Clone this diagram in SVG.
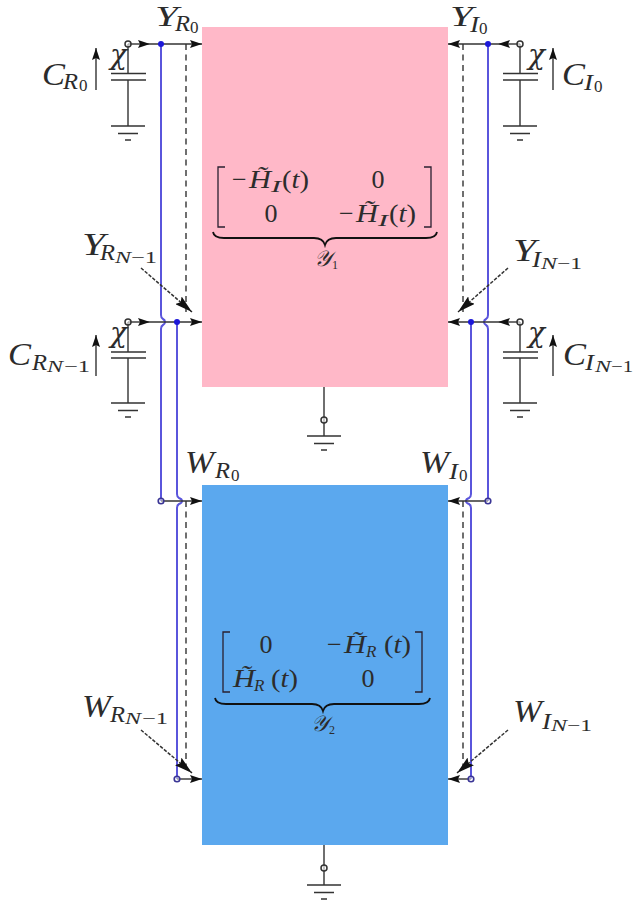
<svg xmlns="http://www.w3.org/2000/svg" width="634" height="903" viewBox="0 0 634 903">
<style>
text{font-family:"Liberation Serif","DejaVu Serif",serif;fill:#2c2c2c}
.i{font-style:italic}
.b{font-size:32px}.bt{font-size:29px}.s{font-size:23px}.t{font-size:17px}.n{font-size:17px;font-style:normal}
.c{font-family:"DejaVu Serif","Liberation Serif",serif;font-style:italic;font-size:27px}
.m{font-size:26px}.ms{font-size:17px;font-style:italic}.z{font-size:26px;text-anchor:middle}
.w{stroke:#333;stroke-width:1.4;fill:none}
.blue{stroke:#5a55dc;stroke-width:2;fill:none}
.dash{stroke:#333;stroke-width:1.4;fill:none;stroke-dasharray:6 4.5}
.dg{stroke:#333;stroke-width:1.5;fill:none;stroke-dasharray:3.5 1.5}
.br{stroke:#2a2030;stroke-width:1.3;fill:none}
.ubr{stroke:#111;stroke-width:1.8;fill:none}
.o{fill:#fff;fill-opacity:.6;stroke:#333;stroke-width:1.5}
.ob{fill:#fff;fill-opacity:.5;stroke:#3a3595;stroke-width:1.6}
.d{fill:#1c18d8}
.a{marker-end:url(#h)}
</style>
<defs>
<marker id="h" viewBox="0 0 12 8" refX="12" refY="4" markerWidth="12" markerHeight="8" markerUnits="userSpaceOnUse" orient="auto"><path d="M0 0L12 4L0 8L2 4Z" fill="#111"/></marker>
<marker id="hd" viewBox="0 0 18 10" refX="18" refY="5" markerWidth="18" markerHeight="10" markerUnits="userSpaceOnUse" orient="auto"><path d="M0 0L18 5L0 10L3 5Z" fill="#111"/></marker>
<g id="gnd"><path class="w" d="M-17 0H17M-10 7.500H10M-3 14H3"/></g>
</defs>

<g id="box-y1"><rect x="202" y="27" width="246" height="360" fill="#ffb8c8"/></g>
<g id="box-y2"><rect x="202" y="485" width="246" height="360" fill="#5ba8ee"/></g>

<g id="connectors">
<path class="dash" d="M186 44V312M463 44V312M186 501V772M463 501V772"/>
<path class="blue" d="M161 44V315Q161 318 163 319Q165 320 165 322Q165 324 163 325Q161 326 161 329V501"/>
<path class="blue" d="M177 322V494Q177 497 179 498Q182 499 182 501Q182 503 179 504Q177 505 177 508V779"/>
<path class="blue" d="M488 44V315Q488 318 486 319Q484 320 484 322Q484 324 486 325Q488 326 488 329V501"/>
<path class="blue" d="M471 322V494Q471 497 469 498Q466 499 466 501Q466 503 469 504Q471 505 471 508V779"/>
<path class="w a" d="M128 44H150"/><path class="w a" d="M150 44H202"/>
<path class="w a" d="M128 322H150"/><path class="w a" d="M150 322H202"/>
<path class="w a" d="M520 44H498"/><path class="w a" d="M498 44H448"/>
<path class="w a" d="M520 322H498"/><path class="w a" d="M498 322H448"/>
<path class="w a" d="M161 501H202"/><path class="w a" d="M488 501H448"/>
<path class="w a" d="M177 779H202"/><path class="w a" d="M471 779H448"/>
<path class="dg" marker-end="url(#hd)" d="M141 268L192 312"/>
<path class="dg" marker-end="url(#hd)" d="M508 268L458 312"/>
<path class="dg" marker-end="url(#hd)" d="M141 730L192 773"/>
<path class="dg" marker-end="url(#hd)" d="M508 730L457 773"/>
<path class="w" d="M324 387V436M324 845V885"/>
</g>

<g id="terminals">
<circle class="d" cx="161" cy="44" r="3"/><circle class="d" cx="488" cy="44" r="3"/>
<circle class="d" cx="177" cy="322" r="3"/><circle class="d" cx="471" cy="322" r="3"/>
<circle class="ob" cx="161" cy="501" r="2.800"/><circle class="ob" cx="488" cy="501" r="2.800"/>
<circle class="ob" cx="177" cy="779" r="2.800"/><circle class="ob" cx="471" cy="779" r="2.800"/>
</g>

<g id="cap-r0">
<path class="w" d="M128 44V73.500M111 73.500H146M111 80H146M128 80V126"/>
<circle class="o" cx="128" cy="44" r="3"/><use href="#gnd" x="128" y="126"/>
<path class="w a" d="M96 90V48"/>
<text class="c" x="110" y="64" textLength="17" lengthAdjust="spacingAndGlyphs">χ</text>
</g>
<g id="cap-rn">
<path class="w" d="M128 322V352M111 352H146M111 358H146M128 358V403"/>
<circle class="o" cx="128" cy="322" r="3"/><use href="#gnd" x="128" y="403"/>
<path class="w a" d="M96 376V335"/>
<text class="c" x="110" y="342" textLength="17" lengthAdjust="spacingAndGlyphs">χ</text>
</g>
<g id="cap-i0">
<path class="w" d="M520 44V73.500M503 73.500H538M503 80H538M520 80V126"/>
<circle class="o" cx="520" cy="44" r="3"/><use href="#gnd" x="520" y="126"/>
<path class="w a" d="M553 90V48"/>
<text class="c" x="528" y="64" textLength="17" lengthAdjust="spacingAndGlyphs">χ</text>
</g>
<g id="cap-in">
<path class="w" d="M520 322V352M503 352H538M503 358H538M520 358V403"/>
<circle class="o" cx="520" cy="322" r="3"/><use href="#gnd" x="520" y="403"/>
<path class="w a" d="M553 376V335"/>
<text class="c" x="528" y="342" textLength="17" lengthAdjust="spacingAndGlyphs">χ</text>
</g>
<g id="gnd-y1"><circle class="o" cx="324" cy="420" r="3"/><use href="#gnd" x="324" y="436"/></g>
<g id="gnd-y2"><circle class="o" cx="324" cy="868" r="3"/><use href="#gnd" x="324" y="885"/></g>

<g id="label-yr0"><text class="bt i" x="155" y="26" textLength="23" lengthAdjust="spacingAndGlyphs">Y</text><text class="s i" x="175" y="31" textLength="15" lengthAdjust="spacingAndGlyphs">R</text><text class="n" x="190" y="33">0</text></g>
<g id="label-yi0"><text class="bt i" x="450" y="26" textLength="23" lengthAdjust="spacingAndGlyphs">Y</text><text class="s i" x="470" y="32" textLength="9" lengthAdjust="spacingAndGlyphs">I</text><text class="n" x="479" y="34">0</text></g>
<g id="label-cr0"><text class="b i" x="42" y="85" textLength="23" lengthAdjust="spacingAndGlyphs">C</text><text class="s i" x="63" y="89" textLength="15" lengthAdjust="spacingAndGlyphs">R</text><text class="n" x="79" y="91">0</text></g>
<g id="label-ci0"><text class="b i" x="562" y="85" textLength="23" lengthAdjust="spacingAndGlyphs">C</text><text class="s i" x="584" y="90" textLength="9" lengthAdjust="spacingAndGlyphs">I</text><text class="n" x="594" y="92">0</text></g>
<g id="label-yrn"><text class="b i" x="82" y="255" textLength="23" lengthAdjust="spacingAndGlyphs">Y</text><text class="s i" x="100" y="260" textLength="15" lengthAdjust="spacingAndGlyphs">R</text><text class="t i" x="115" y="263" textLength="16" lengthAdjust="spacingAndGlyphs">N</text><text class="n" x="131" y="263" textLength="26" lengthAdjust="spacingAndGlyphs">−1</text></g>
<g id="label-yin"><text class="b i" x="513" y="261" textLength="23" lengthAdjust="spacingAndGlyphs">Y</text><text class="s i" x="532" y="267" textLength="9" lengthAdjust="spacingAndGlyphs">I</text><text class="t i" x="541" y="269" textLength="16" lengthAdjust="spacingAndGlyphs">N</text><text class="n" x="557" y="269" textLength="25" lengthAdjust="spacingAndGlyphs">−1</text></g>
<g id="label-crn"><text class="b i" x="8" y="365" textLength="23" lengthAdjust="spacingAndGlyphs">C</text><text class="s i" x="32" y="370" textLength="15" lengthAdjust="spacingAndGlyphs">R</text><text class="t i" x="47" y="372" textLength="16" lengthAdjust="spacingAndGlyphs">N</text><text class="n" x="64" y="372" textLength="26" lengthAdjust="spacingAndGlyphs">−1</text></g>
<g id="label-cin"><text class="b i" x="563" y="365" textLength="23" lengthAdjust="spacingAndGlyphs">C</text><text class="s i" x="585" y="370" textLength="9" lengthAdjust="spacingAndGlyphs">I</text><text class="t i" x="595" y="372" textLength="16" lengthAdjust="spacingAndGlyphs">N</text><text class="n" x="611" y="372" textLength="22" lengthAdjust="spacingAndGlyphs">−1</text></g>
<g id="label-wr0"><text class="b i" x="185" y="473" textLength="29" lengthAdjust="spacingAndGlyphs">W</text><text class="s i" x="215" y="478" textLength="15" lengthAdjust="spacingAndGlyphs">R</text><text class="n" x="231" y="481">0</text></g>
<g id="label-wi0"><text class="b i" x="420" y="473" textLength="29" lengthAdjust="spacingAndGlyphs">W</text><text class="s i" x="449" y="479" textLength="9" lengthAdjust="spacingAndGlyphs">I</text><text class="n" x="459" y="481">0</text></g>
<g id="label-wrn"><text class="b i" x="82" y="717" textLength="29" lengthAdjust="spacingAndGlyphs">W</text><text class="s i" x="110" y="722" textLength="15" lengthAdjust="spacingAndGlyphs">R</text><text class="t i" x="125" y="724" textLength="16" lengthAdjust="spacingAndGlyphs">N</text><text class="n" x="142" y="724" textLength="26" lengthAdjust="spacingAndGlyphs">−1</text></g>
<g id="label-win"><text class="b i" x="513" y="722" textLength="29" lengthAdjust="spacingAndGlyphs">W</text><text class="s i" x="542" y="729" textLength="9" lengthAdjust="spacingAndGlyphs">I</text><text class="t i" x="551" y="731" textLength="16" lengthAdjust="spacingAndGlyphs">N</text><text class="n" x="567" y="731" textLength="25" lengthAdjust="spacingAndGlyphs">−1</text></g>

<g id="matrix-y1">
<path class="br" d="M225 167H218V227H225M424 167H431V227H424"/>
<text class="m" x="232" y="188">−</text><text class="m i" x="249" y="188" textLength="22" lengthAdjust="spacingAndGlyphs">H̃</text><text class="ms" x="271" y="192" textLength="10" lengthAdjust="spacingAndGlyphs">I</text><text class="m" x="282" y="188" textLength="27" lengthAdjust="spacingAndGlyphs">(<tspan class="i">t</tspan>)</text>
<text class="z" x="378" y="188">0</text>
<text class="z" x="271" y="222">0</text>
<text class="m" x="339" y="222">−</text><text class="m i" x="356" y="222" textLength="22" lengthAdjust="spacingAndGlyphs">H̃</text><text class="ms" x="378" y="226" textLength="10" lengthAdjust="spacingAndGlyphs">I</text><text class="m" x="389" y="222" textLength="27" lengthAdjust="spacingAndGlyphs">(<tspan class="i">t</tspan>)</text>
<path class="ubr" d="M213 232Q214 238 224 238H314Q323 238 325 245Q327 238 336 238H426Q436 238 437 232"/>
<text class="i" x="314" y="266" font-size="22">𝒴</text><text x="332" y="269" font-size="12">1</text>
</g>
<g id="matrix-y2">
<path class="br" d="M230 632H223V692H230M415 632H422V692H415"/>
<text class="z" x="266" y="653">0</text>
<text class="m" x="327" y="653">−</text><text class="m i" x="344" y="653" textLength="22" lengthAdjust="spacingAndGlyphs">H̃</text><text class="ms" x="366" y="657">R</text><text class="m" x="384" y="653" textLength="27" lengthAdjust="spacingAndGlyphs">(<tspan class="i">t</tspan>)</text>
<text class="m i" x="233" y="687" textLength="22" lengthAdjust="spacingAndGlyphs">H̃</text><text class="ms" x="254" y="691">R</text><text class="m" x="271" y="687" textLength="27" lengthAdjust="spacingAndGlyphs">(<tspan class="i">t</tspan>)</text>
<text class="z" x="368" y="687">0</text>
<path class="ubr" d="M215 698Q216 704 226 704H312Q321 704 323 711Q325 704 334 704H419Q429 704 430 698"/>
<text class="i" x="311" y="731" font-size="22">𝒴</text><text x="329" y="734" font-size="12">2</text>
</g>
</svg>
